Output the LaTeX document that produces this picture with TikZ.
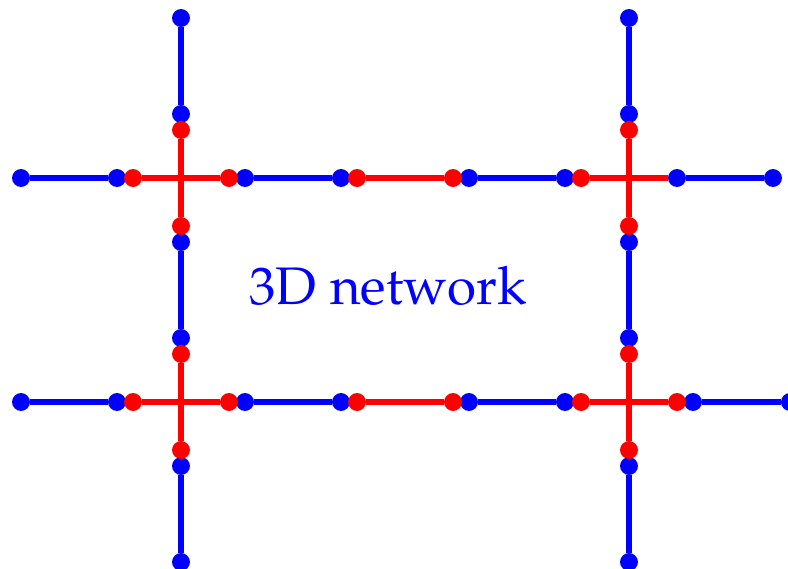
\documentclass[tikz,border=0pt]{standalone}
\usepackage[T1]{fontenc}
\usepackage{mathpazo}
\usepackage{tikz}

\begin{document}
\begin{tikzpicture}[x=0.25cm, y=0.25cm,
    bdot/.style={circle, fill=blue, inner sep=0pt, minimum size=0.28cm},
    rdot/.style={circle, fill=red, inner sep=0pt, minimum size=0.28cm},
    bline/.style={blue, line width=2.7pt},
    rline/.style={red, line width=2.7pt}]
    \useasboundingbox (-11.3125,11.125) rectangle (37.9375,-24.4375);

    % Linhas horizontais (azul)
    \foreach \y/\r in {0/t, -14/b} {
        \foreach \xa/\xb/\k in {-10/-4/1, 4/10/2, 18/24/3} {
            \node[bdot] (h\r\k a) at (\xa,\y) {};
            \node[bdot] (h\r\k b) at (\xb,\y) {};
            \draw[bline] (h\r\k a) -- (h\r\k b);
        }
    }
    \node[bdot] (ht4a) at (31,0) {};
    \node[bdot] (ht4b) at (37,0) {};
    \draw[bline] (ht4a) -- (ht4b);
    \node[bdot] (hb4a) at (32,-14) {};
    \node[bdot] (hb4b) at (38.06,-14) {};
    \draw[bline] (hb4a) -- (hb4b);

    % Linhas verticais (azul)
    \foreach \x/\c in {0/l, 28/r} {
        \foreach \ya/\yb/\k in {10/4/1, -4/-10/2, -18/-24/3} {
            \node[bdot] (v\c\k a) at (\x,\ya) {};
            \node[bdot] (v\c\k b) at (\x,\yb) {};
            \draw[bline] (v\c\k a) -- (v\c\k b);
        }
    }

    % Segmentos vermelhos
    \foreach \x/\c in {0/l, 28/r} {
        \foreach \ya/\yb/\k in {3/-3/1, -11/-17/2} {
            \node[rdot] (rv\c\k a) at (\x,\ya) {};
            \node[rdot] (rv\c\k b) at (\x,\yb) {};
            \draw[rline] (rv\c\k a) -- (rv\c\k b);
        }
    }
    \foreach \y/\r in {0/t, -14/b} {
        \foreach \xa/\xb/\k in {-3/3/1, 11/17/2} {
            \node[rdot] (rh\r\k a) at (\xa,\y) {};
            \node[rdot] (rh\r\k b) at (\xb,\y) {};
            \draw[rline] (rh\r\k a) -- (rh\r\k b);
        }
    }
    \node[rdot] (rht3a) at (25,0) {};
    \draw[rline] (rht3a) -- (ht4a);
    \node[rdot] (rhb3a) at (25,-14) {};
    \node[rdot] (rhb3b) at (31,-14) {};
    \draw[rline] (rhb3a) -- (rhb3b);

    % Rótulo
    \node[text=blue, font=\fontsize{23.5}{28}\selectfont] (rotulo) at (12.94,-6.75) {3D network};
\end{tikzpicture}
\end{document}
